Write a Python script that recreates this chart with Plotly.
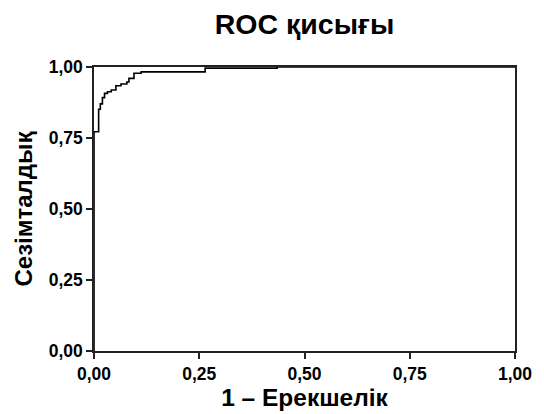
import plotly.graph_objects as go

fpr = [0, 0.011, 0.015, 0.020, 0.025, 0.032, 0.041, 0.052, 0.064, 0.078, 0.083, 0.095, 0.112, 0.264, 0.435, 1.0]
tpr = [0, 0.772, 0.851, 0.870, 0.892, 0.907, 0.913, 0.919, 0.934, 0.940, 0.947, 0.960, 0.978, 0.983, 0.996, 1.0]
ticks = [0, 0.25, 0.5, 0.75, 1.0]
tick_text = ["<b>0,00</b>", "<b>0,25</b>", "<b>0,50</b>", "<b>0,75</b>", "<b>1,00</b>"]

fig = go.Figure()
fig.add_trace(go.Scatter(x=fpr, y=tpr, mode="lines", line=dict(color="black", width=1.6, shape="vh"),
                         showlegend=False, hoverinfo="skip"))

font = "Liberation Sans, Arial, sans-serif"
axis_common = dict(range=[0, 1], tickvals=ticks, ticktext=tick_text, showgrid=False, zeroline=False,
                   showline=True, linecolor="#222", linewidth=1.5, mirror=True,
                   ticks="outside", ticklen=6, tickwidth=1.5, tickcolor="#222", automargin=False,
                   tickfont=dict(family=font, size=17.5, color="black"), fixedrange=True)

fig.update_layout(
    width=544, height=414,
    margin=dict(l=94, r=29, t=67, b=63),
    paper_bgcolor="white", plot_bgcolor="white",
    title=dict(text="<b>ROC қисығы</b>", x=0.5, xref="paper", xanchor="center", y=0.942, yanchor="middle",
               font=dict(family=font, size=28.5, color="black")),
    xaxis=dict(axis_common, title=dict(text="<b>1 – Ерекшелік</b>", standoff=6,
                                       font=dict(family=font, size=24.5, color="black"))),
    yaxis=dict(axis_common, title=dict(text="<b>Сезімталдық</b>", standoff=9,
                                       font=dict(family=font, size=24, color="black"))),
)
fig.write_html("out.html")
